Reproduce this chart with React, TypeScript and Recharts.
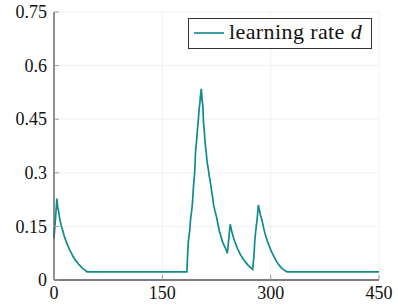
import React from 'react';
import { LineChart, Line, XAxis, YAxis, CartesianGrid, Legend } from 'recharts';

const steps: number[] = [
  0, 2, 4, 5, 6, 8, 10, 12, 14, 16, 18, 20, 22, 24, 26, 28, 30, 32, 34, 36, 38, 40, 42, 44, 46,
  184, 185, 186, 188, 189, 191, 192, 193, 194, 195, 196, 197, 199, 200, 201, 202, 203, 204,
  205, 206, 207, 208, 209, 211, 212, 214, 215, 216, 218, 220, 221, 223, 225, 227, 229, 230,
  232, 234, 236, 238, 240, 244, 246, 248, 250, 252, 254, 256, 258, 260, 262, 264, 266, 268,
  270, 272, 274, 275, 277, 278, 280, 281, 282, 283, 285, 286, 288, 290, 292, 294, 296, 298,
  300, 302, 304, 306, 308, 310, 312, 314, 316, 318, 320, 323, 450,
];

const learningRate: number[] = [
  0.117, 0.17, 0.228, 0.205, 0.196, 0.171, 0.152, 0.139, 0.124, 0.113, 0.101, 0.093, 0.083, 0.076, 0.067, 0.061, 0.054, 0.05, 0.044, 0.04, 0.036, 0.032, 0.029, 0.026, 0.023,
  0.023, 0.07, 0.107, 0.14, 0.168, 0.2, 0.224, 0.258, 0.28, 0.31, 0.36, 0.38, 0.43, 0.452, 0.48, 0.495, 0.52, 0.535,
  0.505, 0.49, 0.442, 0.42, 0.39, 0.352, 0.33, 0.306, 0.29, 0.281, 0.252, 0.226, 0.21, 0.192, 0.177, 0.156, 0.136, 0.131,
  0.115, 0.104, 0.095, 0.086, 0.075, 0.156, 0.137, 0.122, 0.11, 0.099, 0.088, 0.08, 0.071, 0.065, 0.058, 0.053, 0.048, 0.043,
  0.039, 0.035, 0.032, 0.03, 0.07, 0.11, 0.15, 0.165, 0.186, 0.21, 0.19, 0.18, 0.167, 0.148, 0.131, 0.118, 0.106, 0.095,
  0.085, 0.076, 0.068, 0.06, 0.052, 0.046, 0.041, 0.036, 0.032, 0.029, 0.026, 0.023, 0.023,
];

const xTicks: number[] = [0, 150, 300, 450];
const yTicks: number[] = [0, 0.15, 0.3, 0.45, 0.6, 0.75];
const seriesName = 'learning rate ';
const seriesSymbol = 'd';

const data = steps.map((s, i) => ({ step: s, lr: learningRate[i] }));

const FONT = 'Liberation Serif';
const LINE_COLOR = '#0f8b8b';
const AXIS_COLOR = '#555555';

const CSS = `
.lrchart, .lrchart * { font-family: 'Liberation Serif', 'Times New Roman', Tinos !important; }
.lrchart .lr-italic { font-style: italic !important; }
`;

function XTick(props: any) {
  const { x, y, payload } = props;
  const axisY = y - 6;
  return (
    <g>
      <line x1={x} x2={x} y1={axisY} y2={axisY - 5} stroke="#9a9a9a" strokeWidth={1} />
      <text x={x} y={y + 12.8} textAnchor="middle" fontFamily={FONT} fontSize={18} fill="#111">
        {String(payload.value)}
      </text>
    </g>
  );
}

function YTick(props: any) {
  const { x, y, payload } = props;
  const axisX = x + 7;
  return (
    <g>
      <line x1={axisX} x2={axisX + 5} y1={y} y2={y} stroke="#9a9a9a" strokeWidth={1} />
      <text x={x} y={y + 6.2} textAnchor="end" fontFamily={FONT} fontSize={18} fill="#111">
        {String(payload.value)}
      </text>
    </g>
  );
}

function LegendBox() {
  return (
    <div
      style={{
        width: 184,
        height: 31,
        boxSizing: 'border-box',
        border: '1px solid #333',
        background: '#fff',
      }}
    >
      <svg width={182} height={29} style={{ display: 'block' }}>
        <line x1={5} x2={35} y1={14} y2={14} stroke={LINE_COLOR} strokeWidth={1.6} />
        <text x={40} y={19.5} fontFamily={FONT} fontSize={22} letterSpacing={0.4} fill="#111">
          {seriesName}
          <tspan className="lr-italic" fontStyle="italic">{seriesSymbol}</tspan>
        </text>
      </svg>
    </div>
  );
}

export default function App() {
  return (
    <div className="lrchart" style={{ position: 'absolute', left: 0, top: 0, width: 398, height: 305, background: '#fff' }}>
      <style>{CSS}</style>
      <LineChart width={398} height={305} data={data} margin={{ top: 12, right: 19, left: 0, bottom: 0 }}>
        <CartesianGrid stroke="#f1f1f1" strokeWidth={1} />
        <XAxis
          dataKey="step"
          type="number"
          domain={[0, 450]}
          ticks={xTicks}
          interval={0}
          height={25}
          tickSize={0}
          tickMargin={6}
          tickLine={false}
          axisLine={{ stroke: AXIS_COLOR, strokeWidth: 1.3 }}
          tick={XTick}
        />
        <XAxis
          xAxisId="top"
          orientation="top"
          dataKey="step"
          type="number"
          domain={[0, 450]}
          height={0}
          tick={false}
          tickLine={false}
          axisLine={{ stroke: AXIS_COLOR, strokeWidth: 1.3 }}
        />
        <YAxis
          type="number"
          domain={[0, 0.75]}
          ticks={yTicks}
          interval={0}
          width={54}
          tickSize={0}
          tickMargin={7}
          tickLine={false}
          axisLine={{ stroke: AXIS_COLOR, strokeWidth: 1.3 }}
          tick={YTick}
        />
        <YAxis
          yAxisId="right"
          orientation="right"
          type="number"
          domain={[0, 0.75]}
          width={0}
          tick={false}
          tickLine={false}
          axisLine={{ stroke: AXIS_COLOR, strokeWidth: 1.3 }}
        />
        <Legend
          layout="vertical"
          align="center"
          verticalAlign="middle"
          wrapperStyle={{ left: 188, top: 18, width: 184, height: 31 }}
          content={LegendBox}
        />
        <Line
          dataKey="lr"
          type="linear"
          stroke={LINE_COLOR}
          strokeWidth={1.7}
          dot={false}
          isAnimationActive={false}
        />
      </LineChart>
    </div>
  );
}
